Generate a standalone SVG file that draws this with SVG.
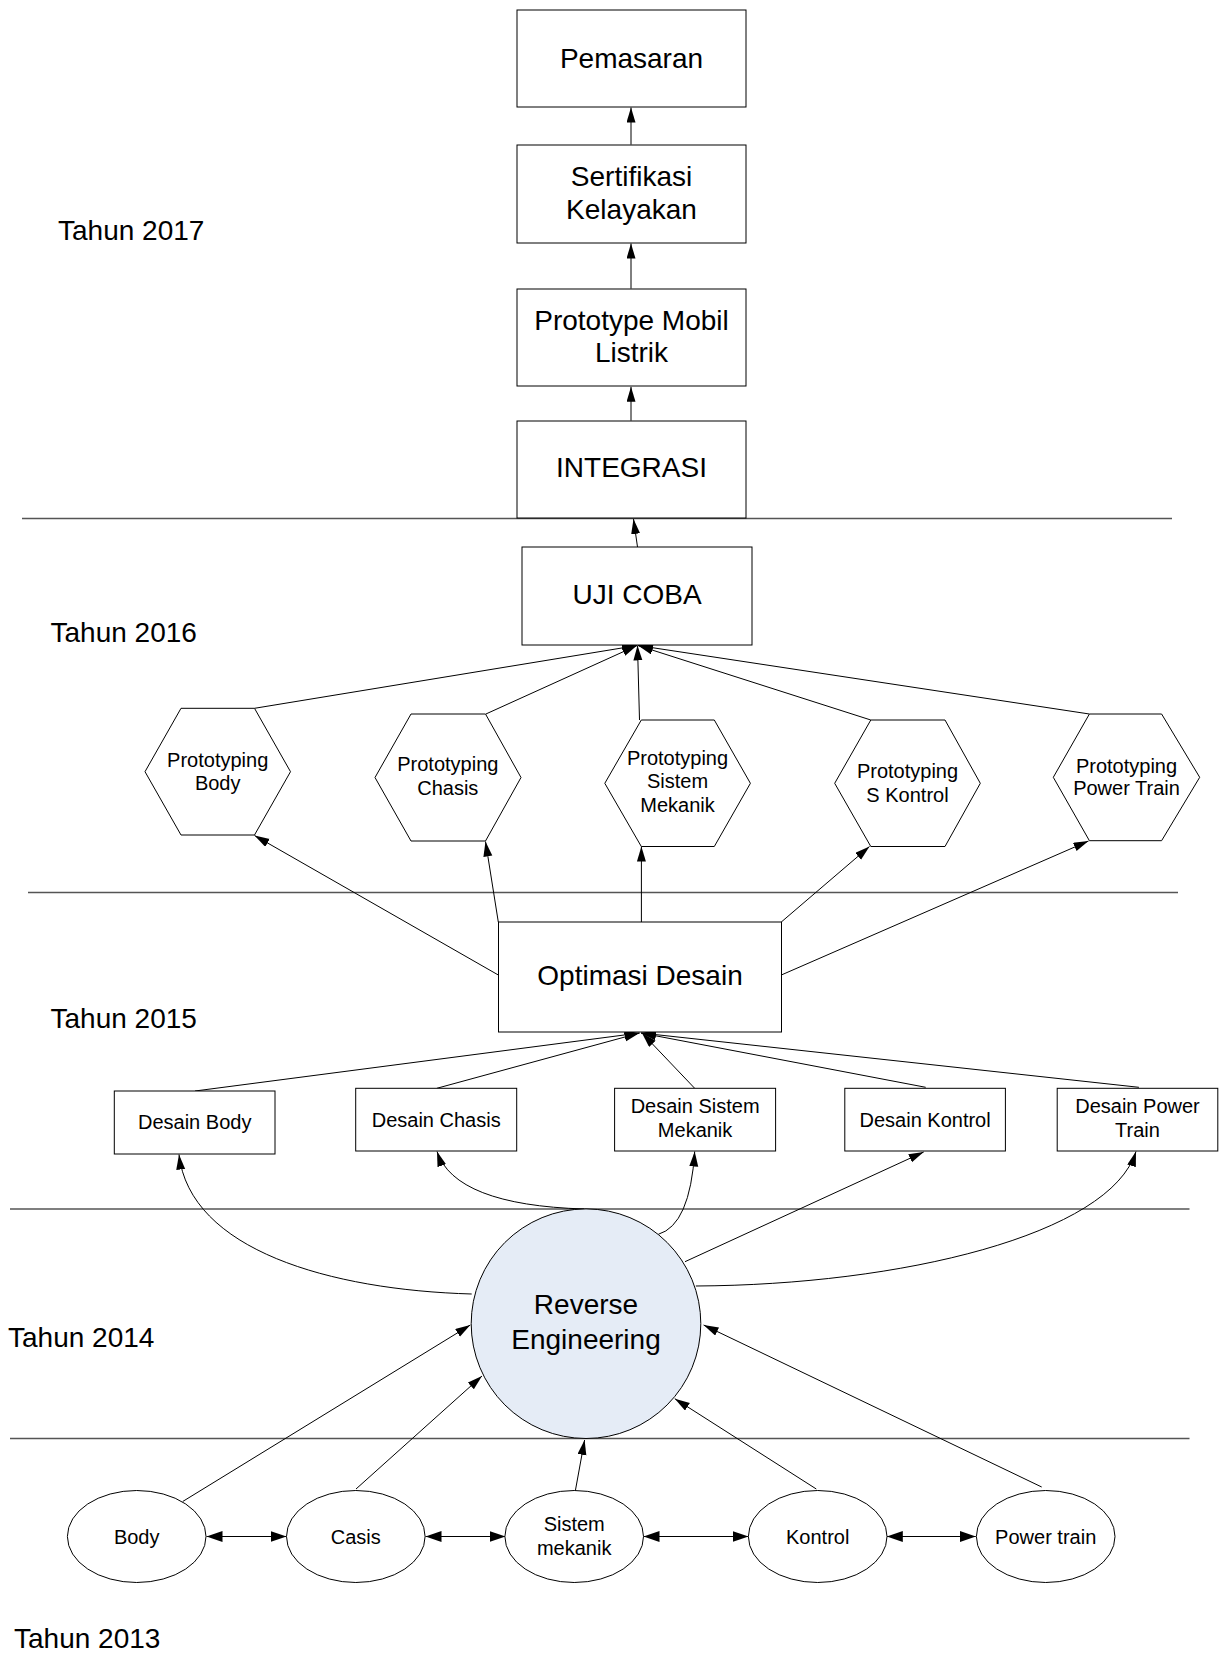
<svg xmlns="http://www.w3.org/2000/svg" width="1219" height="1655" viewBox="0 0 1219 1655">
<defs>
<marker id="ah" markerUnits="userSpaceOnUse" markerWidth="16" markerHeight="10" refX="15" refY="4.5" orient="auto">
<path d="M0,0 L15,4.5 L0,9 z" fill="#000"/>
</marker>
<marker id="ab" markerUnits="userSpaceOnUse" markerWidth="17" markerHeight="12" refX="16" refY="5.5" orient="auto-start-reverse">
<path d="M0,0 L16,5.5 L0,11 z" fill="#000"/>
</marker>
</defs>
<style>
text{font-family:"Liberation Sans",Arial,sans-serif;fill:#000;text-anchor:middle}
.big{font-size:28px}
.sm{font-size:20px}
.yr{font-size:28px;text-anchor:start}
.box{fill:#fff;stroke:#000;stroke-width:1}
.div{stroke:#555;stroke-width:1.5;fill:none}
.c{stroke:#000;stroke-width:1;fill:none;marker-end:url(#ah)}
.bi{stroke:#000;stroke-width:1;fill:none;marker-end:url(#ab);marker-start:url(#ab)}
</style>
<rect width="1219" height="1655" fill="#fff"/>
<g id="dividers">
<line class="div" x1="22" y1="518.5" x2="1172" y2="518.5"/>
<line class="div" x1="28" y1="892.5" x2="1178" y2="892.5"/>
<line class="div" x1="10" y1="1209" x2="1189.5" y2="1209"/>
<line class="div" x1="10" y1="1438.5" x2="1189.5" y2="1438.5"/>
</g>
<g id="years">
<text class="yr" x="58" y="240">Tahun 2017</text>
<text class="yr" x="50.5" y="641.5">Tahun 2016</text>
<text class="yr" x="50.5" y="1027.5">Tahun 2015</text>
<text class="yr" x="8" y="1347">Tahun 2014</text>
<text class="yr" x="14" y="1648">Tahun 2013</text>
</g>
<g id="connectors">
<path class="c" d="M631 144.6 L631 107.5"/>
<path class="c" d="M631 288.6 L631 243.5"/>
<path class="c" d="M631 420.7 L631 386.8"/>
<path class="c" d="M637.5 547 L633.5 519"/>
<path class="c" d="M254.5 708.3 L637 645.5"/>
<path class="c" d="M485.9 714 L637 645.5"/>
<path class="c" d="M639.5 720 L637.5 645.5"/>
<path class="c" d="M870.8 720 L638 645.5"/>
<path class="c" d="M1089.4 714 L638 645.5"/>
<path class="c" d="M498.3 975 L254.5 835.5"/>
<path class="c" d="M498.3 922 L485.5 841.5"/>
<path class="c" d="M641.4 922 L641.4 846.5"/>
<path class="c" d="M781.3 922 L869.5 846.5"/>
<path class="c" d="M781.3 975 L1088.5 841"/>
<path class="c" d="M195 1091 L639.5 1033"/>
<path class="c" d="M436.8 1088.3 L639.5 1033"/>
<path class="c" d="M694.7 1088.3 L642 1033"/>
<path class="c" d="M925.7 1087.3 L641 1033"/>
<path class="c" d="M1138.9 1087.3 L641 1033"/>
<path class="c" d="M471.7 1294 C330 1290 190 1250 179 1154.5"/>
<path class="c" d="M584 1209 Q455 1205 437 1151.5"/>
<path class="c" d="M658.3 1234.3 Q690 1225 694.7 1151.5"/>
<path class="c" d="M685 1261.7 L923.7 1152"/>
<path class="c" d="M695.8 1286 C900 1285 1110 1235 1136 1151.5"/>
<path class="c" d="M182.7 1501.5 L470.3 1325"/>
<path class="c" d="M356 1489 L482 1376"/>
<path class="c" d="M575.3 1491 L584.6 1440"/>
<path class="c" d="M816.3 1489 L674.8 1398.7"/>
<path class="c" d="M1041.7 1487 L703.6 1325"/>
<path class="bi" d="M206.5 1536.5 L286.5 1536.5"/>
<path class="bi" d="M425.5 1536.5 L505.5 1536.5"/>
<path class="bi" d="M643.5 1536.5 L748.5 1536.5"/>
<path class="bi" d="M886.8 1536.5 L975.8 1536.5"/>
</g>
<g id="pemasaran"><rect class="box" x="517" y="10" width="229" height="97"/><text class="big" x="631.5" y="67.5">Pemasaran</text></g>
<g id="sertifikasi"><rect class="box" x="517" y="145" width="229" height="98"/><text class="big" x="631.5" y="186">Sertifikasi</text><text class="big" x="631.5" y="219">Kelayakan</text></g>
<g id="prototype"><rect class="box" x="517" y="289" width="229" height="97"/><text class="big" x="631.5" y="329.5">Prototype Mobil</text><text class="big" x="631.5" y="361.5">Listrik</text></g>
<g id="integrasi"><rect class="box" x="517" y="421" width="229" height="97"/><text class="big" x="631.5" y="477">INTEGRASI</text></g>
<g id="ujicoba"><rect class="box" x="522" y="547" width="230" height="98"/><text class="big" x="637" y="604">UJI COBA</text></g>
<g id="proto-body"><polygon class="box" points="145,771.7 181,708.3 254.5,708.3 290.5,771.7 254.5,835 181,835"/><text class="sm" x="217.7" y="766.7">Prototyping</text><text class="sm" x="217.7" y="790">Body</text></g>
<g id="proto-chasis"><polygon class="box" points="375,777.5 411,714 485.5,714 521,777.5 485.5,841 411,841"/><text class="sm" x="447.8" y="771">Prototyping</text><text class="sm" x="447.8" y="795">Chasis</text></g>
<g id="proto-sistem"><polygon class="box" points="604.8,783.3 641.3,720 714.3,720 750.4,783.3 714.3,846.5 641.3,846.5"/><text class="sm" x="677.5" y="765">Prototyping</text><text class="sm" x="677.5" y="788.3">Sistem</text><text class="sm" x="677.5" y="811.7">Mekanik</text></g>
<g id="proto-kontrol"><polygon class="box" points="834.7,783.3 870.8,720 945,720 980.3,783.3 945,846.5 870.8,846.5"/><text class="sm" x="907.5" y="778.3">Prototyping</text><text class="sm" x="907.5" y="801.7">S Kontrol</text></g>
<g id="proto-power"><polygon class="box" points="1053.3,777.3 1089.4,714 1161.6,714 1199.7,777.3 1161.6,840.7 1089.4,840.7"/><text class="sm" x="1126.5" y="772.7">Prototyping</text><text class="sm" x="1126.5" y="795">Power Train</text></g>
<g id="optimasi"><rect class="box" x="498.5" y="922" width="283" height="110"/><text class="big" x="640" y="985">Optimasi Desain</text></g>
<g id="desain-body"><rect class="box" x="114.3" y="1091" width="160.7" height="63"/><text class="sm" x="194.7" y="1129.3">Desain Body</text></g>
<g id="desain-chasis"><rect class="box" x="355.7" y="1088.3" width="161" height="62.7"/><text class="sm" x="436.2" y="1126.7">Desain Chasis</text></g>
<g id="desain-sistem"><rect class="box" x="614.6" y="1088.3" width="161" height="62.7"/><text class="sm" x="695.1" y="1113.3">Desain Sistem</text><text class="sm" x="695.1" y="1137.3">Mekanik</text></g>
<g id="desain-kontrol"><rect class="box" x="844.8" y="1088.3" width="160.6" height="62.7"/><text class="sm" x="925.1" y="1126.7">Desain Kontrol</text></g>
<g id="desain-power"><rect class="box" x="1057.2" y="1088.3" width="160.6" height="62.7"/><text class="sm" x="1137.5" y="1113.3">Desain Power</text><text class="sm" x="1137.5" y="1137.3">Train</text></g>
<g id="reverse-engineering"><circle cx="586" cy="1323.7" r="114.8" fill="#E5ECF6" stroke="#000" stroke-width="1"/><text class="big" x="586" y="1314">Reverse</text><text class="big" x="586" y="1349">Engineering</text></g>
<g id="body"><ellipse class="box" cx="136.7" cy="1536.5" rx="69.3" ry="46"/><text class="sm" x="136.7" y="1543.5">Body</text></g>
<g id="casis"><ellipse class="box" cx="355.8" cy="1536.5" rx="69.3" ry="46"/><text class="sm" x="355.8" y="1543.5">Casis</text></g>
<g id="sistem-mekanik"><ellipse class="box" cx="574.2" cy="1536.5" rx="69.3" ry="46"/><text class="sm" x="574.2" y="1531.4">Sistem</text><text class="sm" x="574.2" y="1555.4">mekanik</text></g>
<g id="kontrol"><ellipse class="box" cx="817.7" cy="1536.5" rx="69.3" ry="46"/><text class="sm" x="817.7" y="1543.5">Kontrol</text></g>
<g id="power-train"><ellipse class="box" cx="1045.7" cy="1536.5" rx="69.3" ry="46"/><text class="sm" x="1045.7" y="1543.5">Power train</text></g>
</svg>
